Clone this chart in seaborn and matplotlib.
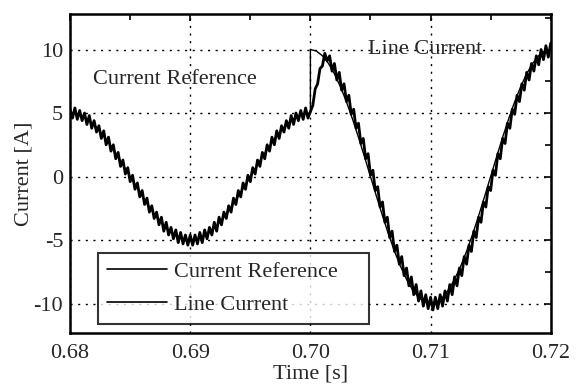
import numpy as np
import pandas as pd
import matplotlib
matplotlib.use("Agg")
import matplotlib.pyplot as plt
import seaborn as sns
from matplotlib.ticker import MultipleLocator

# --- datos ---
# referencia de corriente, muestreada cada 0.5 ms (dos valores en 0.70 s: el escalon)
ref_time = [0.6800, 0.6805, 0.6810, 0.6815, 0.6820, 0.6825, 0.6830, 0.6835, 0.6840, 0.6845,
            0.6850, 0.6855, 0.6860, 0.6865, 0.6870, 0.6875, 0.6880, 0.6885, 0.6890, 0.6895,
            0.6900, 0.6905, 0.6910, 0.6915, 0.6920, 0.6925, 0.6930, 0.6935, 0.6940, 0.6945,
            0.6950, 0.6955, 0.6960, 0.6965, 0.6970, 0.6975, 0.6980, 0.6985, 0.6990, 0.6995,
            0.7000,
            0.7000, 0.7005, 0.7010, 0.7015, 0.7020, 0.7025, 0.7030, 0.7035, 0.7040, 0.7045,
            0.7050, 0.7055, 0.7060, 0.7065, 0.7070, 0.7075, 0.7080, 0.7085, 0.7090, 0.7095,
            0.7100, 0.7105, 0.7110, 0.7115, 0.7120, 0.7125, 0.7130, 0.7135, 0.7140, 0.7145,
            0.7150, 0.7155, 0.7160, 0.7165, 0.7170, 0.7175, 0.7180, 0.7185, 0.7190, 0.7195,
            0.7200]
ref_current = [5.00, 4.94, 4.76, 4.46, 4.05, 3.54, 2.94, 2.27, 1.55, 0.78,
               0.00, -0.78, -1.55, -2.27, -2.94, -3.54, -4.05, -4.46, -4.76, -4.94,
               -5.00, -4.94, -4.76, -4.46, -4.05, -3.54, -2.94, -2.27, -1.55, -0.78,
               0.00, 0.78, 1.55, 2.27, 2.94, 3.54, 4.05, 4.46, 4.76, 4.94,
               5.00,
               10.00, 9.88, 9.51, 8.91, 8.09, 7.07, 5.88, 4.54, 3.09, 1.56,
               0.00, -1.56, -3.09, -4.54, -5.88, -7.07, -8.09, -8.91, -9.51, -9.88,
               -10.00, -9.88, -9.51, -8.91, -8.09, -7.07, -5.88, -4.54, -3.09, -1.56,
               0.00, 1.56, 3.09, 4.54, 5.88, 7.07, 8.09, 8.91, 9.51, 9.88,
               10.00]

# corriente de linea (con rizado), muestreada cada 0.2 ms desde 0.68 s
line_t0 = 0.68
line_dt = 0.0002
line_current = [
    5.3, 4.6, 5.4, 4.5, 5.2, 4.4, 5.0, 4.1, 4.8, 3.8,
    4.4, 3.5, 4.0, 3.0, 3.6, 2.5, 3.1, 2.0, 2.5, 1.4,
    1.9, 0.8, 1.3, 0.2, 0.7, -0.4, 0.1, -1.0, -0.5, -1.6,
    -1.1, -2.2, -1.7, -2.8, -2.3, -3.3, -2.8, -3.8, -3.2, -4.3,
    -3.6, -4.6, -4.0, -4.9, -4.2, -5.2, -4.4, -5.3, -4.6, -5.4,
    -4.6, -5.4, -4.6, -5.3, -4.4, -5.2, -4.2, -4.9, -4.0, -4.6,
    -3.6, -4.3, -3.2, -3.8, -2.8, -3.3, -2.3, -2.8, -1.7, -2.2,
    -1.1, -1.6, -0.5, -1.0, 0.1, -0.4, 0.7, 0.2, 1.3, 0.8,
    1.9, 1.4, 2.5, 2.0, 3.1, 2.5, 3.6, 3.0, 4.0, 3.5,
    4.4, 3.8, 4.8, 4.1, 5.0, 4.4, 5.2, 4.5, 5.4, 4.6,
    5.1, 5.6, 6.9, 7.3, 8.5, 8.7, 9.7, 9.1, 9.5, 8.3,
    8.9, 7.6, 8.2, 6.8, 7.3, 5.9, 6.4, 4.9, 5.3, 3.8,
    4.2, 2.6, 3.0, 1.4, 1.8, 0.1, 0.5, -1.1, -0.8, -2.4,
    -2.0, -3.6, -3.2, -4.8, -4.3, -5.9, -5.4, -6.9, -6.3, -7.8,
    -7.2, -8.6, -7.9, -9.3, -8.5, -9.8, -9.0, -10.2, -9.3, -10.4,
    -9.5, -10.5, -9.5, -10.4, -9.3, -10.2, -9.0, -9.8, -8.5, -9.3,
    -7.9, -8.6, -7.2, -7.8, -6.3, -6.9, -5.4, -5.9, -4.3, -4.8,
    -3.2, -3.6, -2.0, -2.4, -0.8, -1.1, 0.5, 0.1, 1.8, 1.4,
    3.0, 2.6, 4.2, 3.8, 5.3, 4.9, 6.4, 5.9, 7.3, 6.8,
    8.2, 7.6, 8.9, 8.3, 9.5, 8.8, 10.0, 9.2, 10.3, 9.4,
    10.5,
]
line_time = line_t0 + line_dt * np.arange(len(line_current))

df_ref = pd.DataFrame({"t": ref_time, "i": ref_current})
df_line = pd.DataFrame({"t": line_time, "i": line_current})

# --- estilo ---
sns.set_theme(style="white")
plt.rcParams["font.family"] = ["Liberation Serif", "DejaVu Serif"]
fs = 16

fig = plt.figure(figsize=(5.84, 3.87), dpi=100)
ax = fig.add_axes([0.120, 0.140, 0.823, 0.824])

sns.lineplot(data=df_line, x="t", y="i", ax=ax, color="black", lw=2.0,
             estimator=None, sort=False, label="Line Current")
sns.lineplot(data=df_ref, x="t", y="i", ax=ax, color="black", lw=1.0,
             estimator=None, sort=False, label="Current Reference")

ax.set_xlim(0.68, 0.72)
ax.set_ylim(-12.3, 12.8)
ax.xaxis.set_minor_locator(MultipleLocator(0.005))
ax.yaxis.set_minor_locator(MultipleLocator(2.5))
ax.set_xticks([0.68, 0.69, 0.70, 0.71, 0.72])
ax.set_xticklabels(["0.68", "0.69", "0.70", "0.71", "0.72"])
ax.set_yticks([-10, -5, 0, 5, 10])
ax.set_yticklabels(["-10", "-5", "0", "5", "10"])
ax.tick_params(which="both", direction="in", top=True, right=True,
               labelsize=fs, color="black", width=1.2)
ax.tick_params(axis="x", which="major", length=5, pad=8)
ax.tick_params(axis="y", which="major", length=5, pad=5)
ax.tick_params(which="minor", length=4)

ax.grid(True, which="major", color="black", linestyle=(0, (1.5, 4)), linewidth=1.0)
for s in ax.spines.values():
    s.set_color("black")
    s.set_linewidth(1.8)

ax.set_xlabel("Time [s]", fontsize=fs, labelpad=1)
ax.set_ylabel("Current [A]", fontsize=fs, labelpad=0)

ax.text(0.6819, 7.6, "Current Reference", fontsize=fs, va="center", ha="left")
ax.text(0.7048, 10.0, "Line Current", fontsize=fs, va="center", ha="left")

# leyenda: primero la referencia
handles, labels = ax.get_legend_handles_labels()
order = [1, 0]
leg = ax.legend([handles[k] for k in order], [labels[k] for k in order],
                loc="lower left", bbox_to_anchor=(0.058, 0.028, 0.563, 0.2),
                mode="expand", frameon=True,
                fancybox=False, edgecolor="black", fontsize=fs,
                handlelength=2.7, borderpad=0.4, labelspacing=0.55,
                handletextpad=0.3, borderaxespad=0.0)
leg.get_frame().set_linewidth(1.5)
for h in leg.get_lines():
    h.set_linewidth(1.2)

fig.savefig("out.png", dpi=100)
